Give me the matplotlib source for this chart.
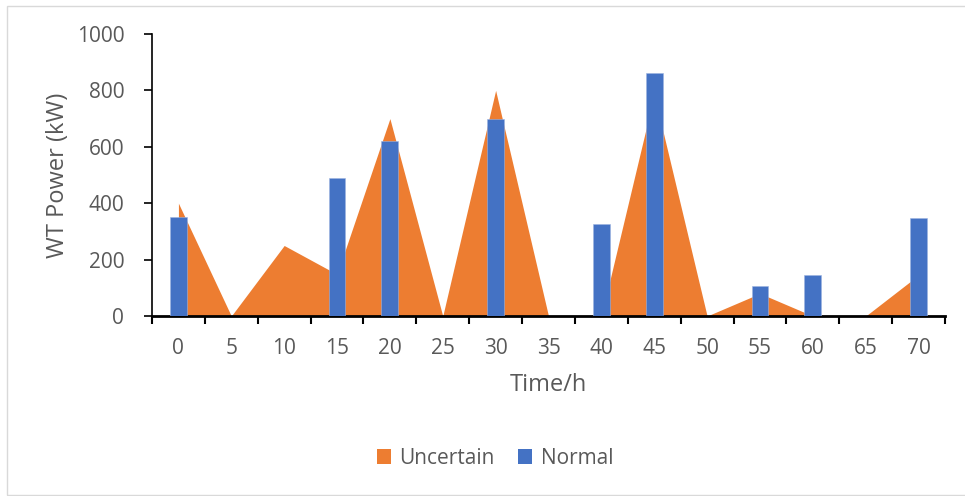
import matplotlib
matplotlib.use("Agg")
import matplotlib.pyplot as plt
from matplotlib.patches import Patch, Rectangle
import numpy as np

categories = ["0", "5", "10", "15", "20", "25", "30", "35", "40", "45", "50", "55", "60", "65", "70"]
uncertain = [400, 0, 250, 148, 700, 0, 800, 0, 0, 785, 0, 80, 0, 0, 145]
normal = [350, 0, 0, 488, 622, 0, 700, 0, 325, 862, 0, 106, 147, 0, 348]
yticks = [0, 200, 400, 600, 800, 1000]

TXT = "#595959"
ORANGE = "#ED7D31"
BLUE = "#4472C4"
plt.rcParams["font.family"] = ["Open Sans", "DejaVu Sans"]

W, H = 965, 496
fig = plt.figure(figsize=(W / 100, H / 100), dpi=100)
fig.patches.append(Rectangle((7 / W, 1 / H), 980 / W, 489 / H, transform=fig.transFigure,
                             fill=False, edgecolor="#D9D9D9", linewidth=1))
ax = fig.add_axes([152 / W, (H - 316) / H, (945 - 152) / W, (316 - 34) / H])

x = np.arange(len(categories))
ax.fill_between(x, uncertain, 0, color=ORANGE, linewidth=0, zorder=2)
ax.bar(x, normal, width=0.32, color=BLUE, edgecolor="#9DB3E0", linewidth=0.4, zorder=3)

ax.set_xlim(-0.5, len(categories) - 0.5)
ax.set_ylim(0, 1000)
ax.set_yticks(yticks)
ax.set_yticklabels([str(v) for v in yticks])
ax.set_xticks(x)
ax.set_xticklabels(categories)
ax.set_xticks(np.arange(-0.5, len(categories), 1.0), minor=True)
ax.tick_params(axis="x", which="major", length=0, pad=16, labelsize=15, labelcolor=TXT)
ax.tick_params(axis="x", which="minor", length=6, width=1.5, color="black", direction="out")
ax.tick_params(axis="y", length=6, width=1.2, color="black", direction="out", pad=14,
               labelsize=15, labelcolor=TXT)

for s in ["top", "right"]:
    ax.spines[s].set_visible(False)
ax.spines["left"].set_linewidth(1.2)
ax.spines["bottom"].set_linewidth(2)
ax.spines["left"].set_color("black")
ax.spines["bottom"].set_color("black")

ax.set_xlabel("Time/h", fontsize=17, color=TXT, labelpad=10)
ax.set_ylabel("WT Power (kW)", fontsize=17, color=TXT, labelpad=5)

handles = [Patch(facecolor=ORANGE, label="Uncertain"), Patch(facecolor=BLUE, label="Normal")]
fig.legend(handles=handles, loc="center", bbox_to_anchor=(495 / W, (H - 458) / H), ncol=2,
           frameon=False, fontsize=15, labelcolor=TXT, handlelength=0.7, handleheight=0.7,
           handletextpad=0.4, columnspacing=1.1)

fig.savefig("out.png", dpi=100)
